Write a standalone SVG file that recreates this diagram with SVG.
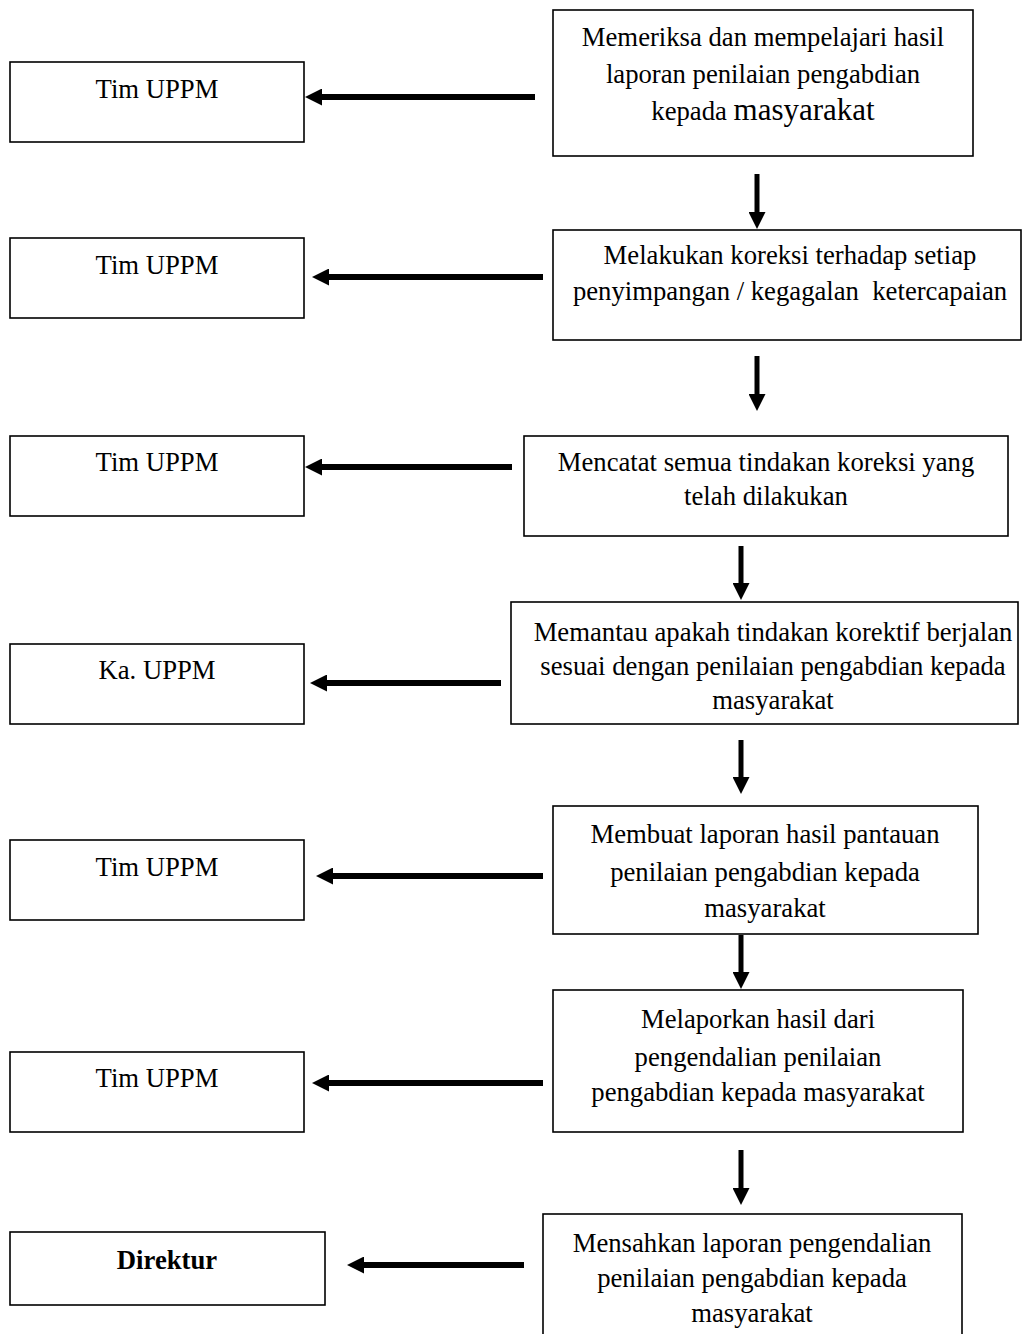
<svg xmlns="http://www.w3.org/2000/svg" width="1022" height="1334" viewBox="0 0 1022 1334">
<defs>
<style>
.box{fill:#fff;stroke:#000;stroke-width:1.6}
.t{font-family:"Liberation Serif","Times New Roman",serif;font-size:26.7px;fill:#000;text-anchor:middle}
.b{font-weight:bold}
.h{stroke:#000;stroke-width:6;fill:none}
.v{stroke:#000;stroke-width:5;fill:none}
</style>
<marker id="ah" viewBox="0 0 10 10" refX="0" refY="5" markerUnits="userSpaceOnUse" markerWidth="17" markerHeight="17" orient="auto">
<path d="M0,0 L10,5 L0,10 z" fill="#000"/>
</marker>
</defs>
<rect width="1022" height="1334" fill="#fff"/>
<g id="l1"><rect class="box" x="10" y="62" width="294" height="80"/><text class="t" x="157" y="98">Tim UPPM</text></g>
<g id="l2"><rect class="box" x="10" y="238" width="294" height="80"/><text class="t" x="157" y="274">Tim UPPM</text></g>
<g id="l3"><rect class="box" x="10" y="436" width="294" height="80"/><text class="t" x="157" y="471">Tim UPPM</text></g>
<g id="l4"><rect class="box" x="10" y="644" width="294" height="80"/><text class="t" x="157" y="679">Ka. UPPM</text></g>
<g id="l5"><rect class="box" x="10" y="840" width="294" height="80"/><text class="t" x="157" y="876">Tim UPPM</text></g>
<g id="l6"><rect class="box" x="10" y="1052" width="294" height="80"/><text class="t" x="157" y="1087">Tim UPPM</text></g>
<g id="l7"><rect class="box" x="10" y="1232" width="315" height="73"/><text class="t b" x="167" y="1269">Direktur</text></g>

<g id="r1"><rect class="box" x="553" y="10" width="420" height="146"/>
<text class="t" x="763" y="46">Memeriksa dan mempelajari hasil</text>
<text class="t" x="763" y="83">laporan penilaian pengabdian</text>
<text class="t" x="763" y="120">kepada <tspan style="font-size:31px">masyarakat</tspan></text></g>
<g id="r2"><rect class="box" x="553" y="230" width="468" height="110"/>
<text class="t" x="790" y="264">Melakukan koreksi terhadap setiap</text>
<text class="t" x="790" y="300" xml:space="preserve">penyimpangan / kegagalan  ketercapaian</text></g>
<g id="r3"><rect class="box" x="524" y="436" width="484" height="100"/>
<text class="t" x="766" y="471">Mencatat semua tindakan koreksi yang</text>
<text class="t" x="766" y="505">telah dilakukan</text></g>
<g id="r4"><rect class="box" x="511" y="602" width="507" height="122"/>
<text class="t" x="773" y="641">Memantau apakah tindakan korektif berjalan</text>
<text class="t" x="773" y="675">sesuai dengan penilaian pengabdian kepada</text>
<text class="t" x="773" y="709">masyarakat</text></g>
<g id="r5"><rect class="box" x="553" y="806" width="425" height="128"/>
<text class="t" x="765" y="843">Membuat laporan hasil pantauan</text>
<text class="t" x="765" y="881">penilaian pengabdian kepada</text>
<text class="t" x="765" y="917">masyarakat</text></g>
<g id="r6"><rect class="box" x="553" y="990" width="410" height="142"/>
<text class="t" x="758" y="1028">Melaporkan hasil dari</text>
<text class="t" x="758" y="1066">pengendalian penilaian</text>
<text class="t" x="758" y="1101">pengabdian kepada masyarakat</text></g>
<g id="r7"><rect class="box" x="543" y="1214" width="419" height="130"/>
<text class="t" x="752" y="1252">Mensahkan laporan pengendalian</text>
<text class="t" x="752" y="1287">penilaian pengabdian kepada</text>
<text class="t" x="752" y="1322">masyarakat</text></g>

<g id="connectors">
<line class="h" x1="535" y1="97" x2="322" y2="97" marker-end="url(#ah)"/>
<line class="h" x1="543" y1="277" x2="329" y2="277" marker-end="url(#ah)"/>
<line class="h" x1="512" y1="467" x2="322" y2="467" marker-end="url(#ah)"/>
<line class="h" x1="501" y1="683" x2="327" y2="683" marker-end="url(#ah)"/>
<line class="h" x1="543" y1="876" x2="333" y2="876" marker-end="url(#ah)"/>
<line class="h" x1="543" y1="1083" x2="329" y2="1083" marker-end="url(#ah)"/>
<line class="h" x1="524" y1="1265" x2="364" y2="1265" marker-end="url(#ah)"/>
<line class="v" x1="757" y1="174" x2="757" y2="212" marker-end="url(#ah)"/>
<line class="v" x1="757" y1="356" x2="757" y2="394" marker-end="url(#ah)"/>
<line class="v" x1="741" y1="546" x2="741" y2="583" marker-end="url(#ah)"/>
<line class="v" x1="741" y1="740" x2="741" y2="777" marker-end="url(#ah)"/>
<line class="v" x1="741" y1="935" x2="741" y2="972" marker-end="url(#ah)"/>
<line class="v" x1="741" y1="1150" x2="741" y2="1188" marker-end="url(#ah)"/>
</g>
</svg>
